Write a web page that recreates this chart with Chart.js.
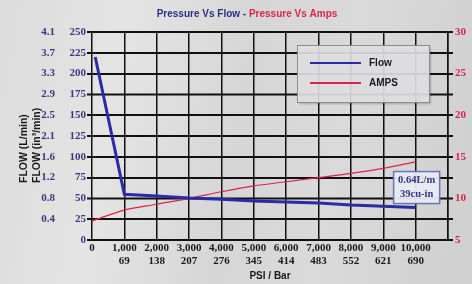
<!DOCTYPE html>
<html>
<head>
<meta charset="utf-8">
<script src="https://cdn.jsdelivr.net/npm/chart.js@4/dist/chart.umd.min.js"></script>
<style>
  html, body { margin: 0; padding: 0; }
  body {
    width: 472px; height: 284px; overflow: hidden;
    background: linear-gradient(100deg, #dcdcdc 0%, #e4e4e4 25%, #d6d6d6 50%, #dadada 70%, #cfcfcf 100%);
  }
  canvas { display: block; }
</style>
</head>
<body>
<canvas id="chart" width="472" height="284"></canvas>
<script>
// pressure (psi) and flow (in3/min)
const flowPsi = [100, 1000, 2000, 3000, 4000, 5000, 6000, 7000, 8000, 9000, 10000];
const flowCuIn = [220, 55, 53, 50.5, 49, 47, 45.7, 44.5, 42, 40.5, 39];

// pressure (psi) and current (amps)
const ampsPsi = [0, 1000, 2000, 3000, 4000, 5000, 6000, 7000, 8000, 9000, 10000];
const amps = [7.3, 8.6, 9.3, 10.0, 10.8, 11.5, 12.0, 12.5, 13.0, 13.6, 14.4];

// second row of x labels (bar) and second column of y labels (L/min)
const barLabels = ["69", "138", "207", "276", "345", "414", "483", "552", "621", "690"];
const lpmLabels = ["0.4", "0.8", "1.2", "1.6", "2.1", "2.5", "2.9", "3.3", "3.7", "4.1"];

const yTitles = ["FLOW (L/min)", "FLOW (in³/min)"];
const endNote = ["0.64L/m", "39cu-in"];

const NAVY = "#2e2e86";
const RED = "#d8244c";
const SERIF = "'Liberation Serif', 'DejaVu Serif', serif";
const SANS = "'Liberation Sans', Arial, sans-serif";

const extras = {
    id: "extras",
    beforeDatasetsDraw(chart)
    {
        // horizontal grid with small ticks on both sides
        const ctx = chart.ctx;
        const ys = chart.scales.y;
        const ca = chart.chartArea;
        ctx.save();
        ctx.strokeStyle = "#111";
        ctx.lineWidth = 1.5;
        ys.ticks.forEach(t => {
            const y = Math.round(ys.getPixelForValue(t.value)) + 0.25;
            ctx.beginPath();
            ctx.moveTo(ca.left - 5, y);
            ctx.lineTo(ca.right + 5, y);
            ctx.stroke();
        });
        ctx.restore();
    },
    afterDraw(chart)
    {
        const ctx = chart.ctx;
        const xs = chart.scales.x;
        const ys = chart.scales.y;

        // title in two colours
        ctx.save();
        ctx.font = "bold 10px " + SANS;
        ctx.textBaseline = "middle";
        const t1 = "Pressure Vs Flow - ";
        const t2 = "Pressure Vs Amps";
        const w1 = ctx.measureText(t1).width;
        const w2 = ctx.measureText(t2).width;
        let tx = 247 - (w1 + w2) / 2;
        ctx.fillStyle = NAVY;
        ctx.fillText(t1, tx, 14);
        ctx.fillStyle = RED;
        ctx.fillText(t2, tx + w1, 14);

        // rotated y titles, both starting at the same height
        ctx.font = "bold 10.5px " + SANS;
        ctx.fillStyle = "#1a1a1a";
        ctx.textAlign = "left";
        yTitles.forEach((t, i) => {
            ctx.save();
            ctx.translate(24 + i * 13, 183);
            ctx.rotate(-Math.PI / 2);
            ctx.fillText(t, 0, 0);
            ctx.restore();
        });

        // L/min column
        ctx.font = "bold 11px " + SERIF;
        ctx.fillStyle = "#3a3a7e";
        ctx.textAlign = "right";
        lpmLabels.forEach((t, i) => {
            ctx.fillText(t, 55, ys.getPixelForValue((i + 1) * 25));
        });

        // legend box
        ctx.save();
        ctx.shadowColor = "rgba(0,0,0,0.25)";
        ctx.shadowOffsetX = 2;
        ctx.shadowOffsetY = 2;
        ctx.shadowBlur = 2;
        ctx.fillStyle = "rgba(226,226,230,0.9)";
        ctx.fillRect(297, 45, 132, 57);
        ctx.restore();
        ctx.strokeStyle = "#8a8a8a";
        ctx.lineWidth = 1;
        ctx.strokeRect(297.5, 45.5, 132, 57);
        ctx.textAlign = "left";
        ctx.font = "bold 10px " + SANS;
        chart.data.datasets.forEach((ds, i) => {
            const ly = 63 + i * 20;
            ctx.strokeStyle = ds.borderColor;
            ctx.lineWidth = 2;
            ctx.beginPath();
            ctx.moveTo(310, ly);
            ctx.lineTo(361, ly);
            ctx.stroke();
            ctx.fillStyle = "#1a1a1a";
            ctx.fillText(ds.label, 369, ly);
        });

        // end note box on last flow point
        const last = flowPsi.length - 1;
        const px = xs.getPixelForValue(flowPsi[last]);
        const py = ys.getPixelForValue(flowCuIn[last]);
        ctx.fillStyle = "rgba(232,234,244,0.95)";
        ctx.fillRect(px - 22, py - 36, 46, 32);
        ctx.strokeStyle = "#6a76b4";
        ctx.lineWidth = 1.5;
        ctx.strokeRect(px - 22, py - 36, 46, 32);
        ctx.font = "bold 10.5px " + SERIF;
        ctx.fillStyle = "#33367e";
        ctx.textAlign = "center";
        ctx.fillText(endNote[0], px + 1, py - 27);
        ctx.fillText(endNote[1], px + 1, py - 13);
        ctx.restore();
    }
};

function buildChart(elem)
{
    const config = {
        type: "line",
        data: {
            datasets: [{
                label: "Flow",
                data: flowPsi.map((x, i) => ({x: x, y: flowCuIn[i]})),
                borderColor: "#2b2ba6",
                borderWidth: 3,
                pointRadius: 0,
                yAxisID: "y"
            }, {
                label: "AMPS",
                data: ampsPsi.map((x, i) => ({x: x, y: amps[i]})),
                borderColor: RED,
                borderWidth: 1.2,
                pointRadius: 0,
                tension: 0.3,
                yAxisID: "y1"
            }]
        },
        options: {
            responsive: false,
            animation: false,
            layout: {padding: {top: 32, left: 0, right: 0, bottom: 0}},
            plugins: {legend: {display: false}, tooltip: {enabled: false}},
            scales: {
                x: {
                    type: "linear",
                    min: 0,
                    max: 11000,
                    afterFit: s => { s.height = 44; },
                    border: {display: false},
                    grid: {color: "#111", lineWidth: 1.5, tickLength: 0},
                    ticks: {
                        stepSize: 1000,
                        autoSkip: false,
                        maxRotation: 0,
                        padding: 1,
                        color: "#1a1a1a",
                        font: {family: SERIF, size: 11, weight: "bold", lineHeight: 1.25},
                        callback: v => {
                            if (v === 0) return "0";
                            if (v > 10000) return "";
                            return [v.toLocaleString("en-US"), barLabels[v / 1000 - 1]];
                        }
                    },
                    title: {
                        display: true,
                        text: "PSI / Bar",
                        color: "#1a1a1a",
                        padding: {top: 0, bottom: 2},
                        font: {family: SANS, size: 10, weight: "bold"}
                    }
                },
                y: {
                    position: "left",
                    min: 0,
                    max: 250,
                    afterFit: s => { s.width = 92; },
                    border: {display: false},
                    grid: {color: "#111", lineWidth: 1.5, tickLength: 5},
                    ticks: {
                        stepSize: 25,
                        padding: 1,
                        color: "#3a3a7e",
                        font: {family: SERIF, size: 11, weight: "bold"}
                    }
                },
                y1: {
                    position: "right",
                    min: 5,
                    max: 30,
                    afterFit: s => { s.width = 24; },
                    border: {display: true, color: "#111", width: 1.5},
                    grid: {drawOnChartArea: false, color: "#111", lineWidth: 1.5, tickLength: 5},
                    ticks: {
                        stepSize: 2.5,
                        padding: 2,
                        color: RED,
                        font: {family: SERIF, size: 11, weight: "bold"},
                        callback: v => v % 5 === 0 ? String(v) : ""
                    }
                }
            }
        },
        plugins: [extras]
    };

    return new Chart(elem, config);
}

buildChart(document.getElementById("chart"));
</script>
</body>
</html>
